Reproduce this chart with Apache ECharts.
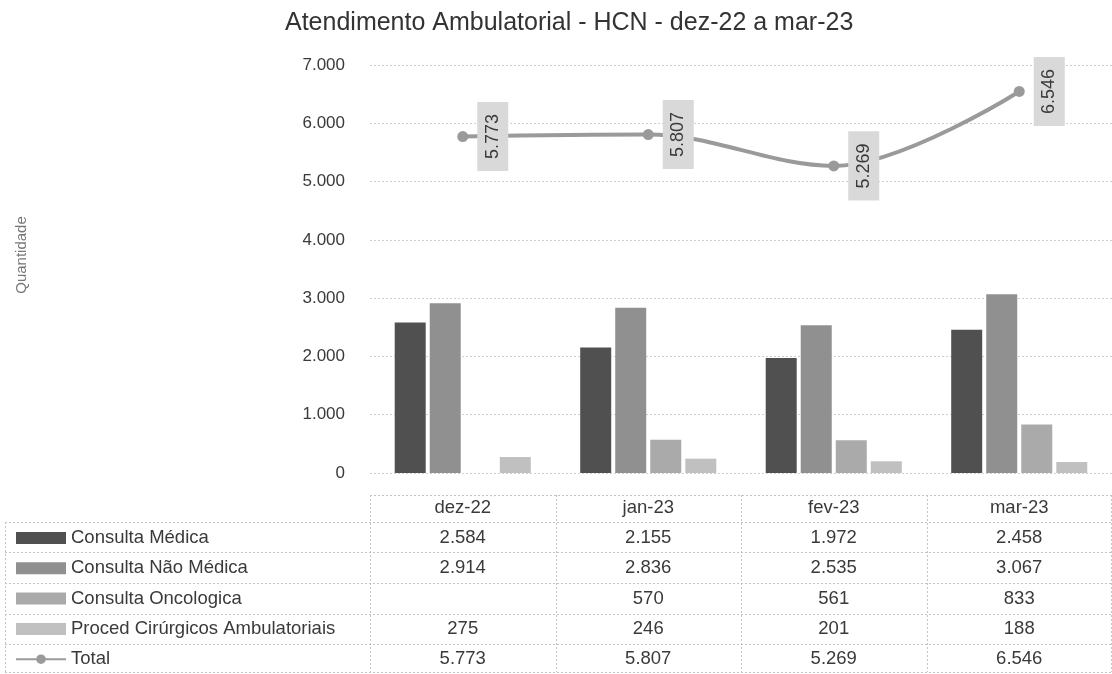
<!DOCTYPE html>
<html>
<head>
<meta charset="utf-8">
<script src="https://cdn.jsdelivr.net/npm/echarts@6/dist/echarts.min.js"></script>
<style>
html,body{margin:0;padding:0;background:#fff;}
#chart{width:1112px;height:674px;}
</style>
</head>
<body>
<div id="chart"></div>
<script>
// ---- data ----
const categories = ['dez-22', 'jan-23', 'fev-23', 'mar-23'];
const consultaMedica = [2584, 2155, 1972, 2458];
const consultaNaoMedica = [2914, 2836, 2535, 3067];
const consultaOncologica = [null, 570, 561, 833];
const procedCirurgicos = [275, 246, 201, 188];
const total = [5773, 5807, 5269, 6546];
const seriesNames = ['Consulta Médica', 'Consulta Não Médica', 'Consulta Oncologica', 'Proced Cirúrgicos Ambulatoriais', 'Total'];
const titleText = 'Atendimento Ambulatorial - HCN - dez-22 a mar-23';
const yAxisName = 'Quantidade';
const yMin = 0, yMax = 7000, yStep = 1000;

// ---- layout / style ----
const FONT = 'Liberation Sans, Arial, sans-serif';
const TXT = '#3a3a3a';
const GRID = { left: 370, right: 0, top: 65, bottom: 201 };
const AXIS_Y = 674 - GRID.bottom;           // pixel y of the x axis
const HEADER_Y = 508;
const ROW_Y = [538, 568, 599, 629, 659];
const TABLE_TOP = 495, TABLE_ROW_TOP = 522, TABLE_BOTTOM = 672, TABLE_LEFT = 5, TABLE_RIGHT = 1111;
const ROW_LINES = [522, 552, 583, 614, 644, 672];
const barColors = ['#505050', '#909090', '#aaaaaa', '#c0c0c0'];
const lineColor = '#9a9a9a';
const TABLE_FS = 18.5;

function fmt(v) {
  if (v === null || v === undefined) return '';
  return String(v).replace(/\B(?=(\d{3})+(?!\d))/g, '.');
}

const rowData = [consultaMedica, consultaNaoMedica, consultaOncologica, procedCirurgicos, total];

const chart = echarts.init(document.getElementById('chart'), null, { renderer: 'canvas' });

// x axes: header + one per table row
const xAxes = [{
  type: 'category',
  data: categories,
  gridIndex: 0,
  position: 'bottom',
  axisLine: { show: false },
  axisTick: { show: false },
  axisLabel: { interval: 0, margin: HEADER_Y - AXIS_Y, verticalAlign: 'middle', color: TXT, fontSize: TABLE_FS, fontFamily: FONT }
}];
rowData.forEach(function (arr, r) {
  xAxes.push({
    type: 'category',
    data: categories,
    gridIndex: 0,
    position: 'bottom',
    offset: ROW_Y[r] - AXIS_Y,
    axisLine: { show: false },
    axisTick: { show: false },
    splitLine: { show: false },
    axisLabel: {
      interval: 0, margin: 0, verticalAlign: 'middle', color: TXT, fontSize: TABLE_FS, fontFamily: FONT,
      formatter: function (val, idx) { return fmt(arr[idx]); }
    }
  });
});

// table lines (decoration)
const dash = { stroke: '#c4c4c4', lineWidth: 1, lineDash: [2, 2] };
const graphics = [];
graphics.push({ type: 'line', shape: { x1: GRID.left, y1: TABLE_TOP + 0.5, x2: TABLE_RIGHT, y2: TABLE_TOP + 0.5 }, style: dash, silent: true });
ROW_LINES.forEach(function (y) {
  graphics.push({ type: 'line', shape: { x1: TABLE_LEFT, y1: y + 0.5, x2: TABLE_RIGHT, y2: y + 0.5 }, style: dash, silent: true });
});
graphics.push({ type: 'line', shape: { x1: TABLE_LEFT + 0.5, y1: TABLE_ROW_TOP, x2: TABLE_LEFT + 0.5, y2: TABLE_BOTTOM }, style: dash, silent: true });
const colW = (1112 - GRID.left - GRID.right) / categories.length;
for (let i = 0; i <= categories.length; i++) {
  const x = Math.min(Math.round(GRID.left + i * colW) + 0.5, TABLE_RIGHT + 0.5);
  graphics.push({ type: 'line', shape: { x1: x, y1: TABLE_TOP, x2: x, y2: TABLE_BOTTOM }, style: dash, silent: true });
}
graphics.push({
  type: 'text', x: 22, y: 255, rotation: Math.PI / 2,
  style: { text: yAxisName, fill: '#777', fontSize: 15, fontFamily: FONT, align: 'center', verticalAlign: 'middle' },
  silent: true
});

const barSeries = [consultaMedica, consultaNaoMedica, consultaOncologica, procedCirurgicos].map(function (arr, i) {
  return {
    name: seriesNames[i],
    type: 'bar',
    data: arr,
    barWidth: 31,
    barGap: '13%',
    itemStyle: { color: barColors[i] },
    xAxisIndex: 0,
    z: 2
  };
});

const option = {
  animation: false,
  backgroundColor: '#ffffff',
  title: {
    text: titleText,
    left: 280, top: 6,
    textStyle: { color: '#333', fontSize: 25, fontWeight: 'normal', fontFamily: FONT }
  },
  legend: {
    orient: 'vertical',
    left: 15,
    top: ROW_Y[0] - 10,
    height: 220,
    padding: 0,
    itemWidth: 50,
    itemHeight: 12,
    itemGap: 10.3,
    data: seriesNames.slice(0, 4).map(function (n) { return { name: n, icon: 'rect' }; }).concat([{ name: 'Total' }]),
    textStyle: { color: TXT, fontSize: TABLE_FS, fontFamily: FONT, lineHeight: 20 },
    selectedMode: false
  },
  grid: GRID,
  xAxis: xAxes,
  yAxis: {
    type: 'value',
    min: yMin, max: yMax, interval: yStep,
    axisLine: { show: false },
    axisTick: { show: false },
    splitLine: { lineStyle: { color: '#cfcfcf', type: [2, 2], width: 1 } },
    axisLabel: { margin: 25, color: TXT, fontSize: 17, fontFamily: FONT, formatter: function (v) { return fmt(v); } }
  },
  graphic: graphics,
  series: barSeries.concat([{
    name: 'Total',
    type: 'line',
    data: total,
    smooth: 0.35,
    symbol: 'circle',
    symbolSize: 11,
    lineStyle: { color: lineColor, width: 4 },
    itemStyle: { color: lineColor },
    z: 5,
    label: {
      show: true,
      position: [35.5, 5.5],
      rotate: 90,
      align: 'center',
      verticalAlign: 'middle',
      color: TXT,
      fontSize: 18,
      fontFamily: FONT,
      lineHeight: 21,
      backgroundColor: '#d9d9d9',
      padding: [5, 12],
      formatter: function (p) { return fmt(p.value); }
    }
  }])
};

chart.setOption(option);
</script>
</body>
</html>
